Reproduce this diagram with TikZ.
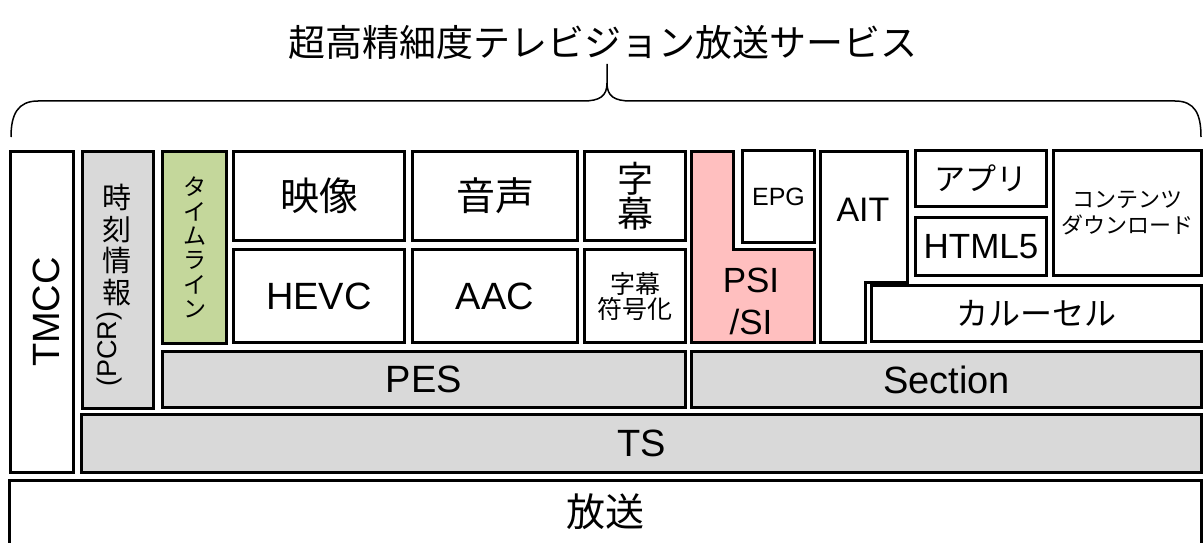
\documentclass[tikz,border=0pt]{standalone}
\usepackage{fontspec}
\setmainfont{Liberation Sans}
\newfontfamily\jp{Noto Sans CJK JP}
\definecolor{layergray}{HTML}{D9D9D9}
\definecolor{timegreen}{HTML}{C4D79B}
\definecolor{sipink}{HTML}{FFBFBF}

\begin{document}
\begin{tikzpicture}[
  x = 1pt, y = -1pt,
  frame/.style = {draw, line width = 3pt},
  box/.style = {frame, fill = white, inner sep = 0pt, align = center},
  layer/.style = {box, fill = layergray},
  dims/.style 2 args = {minimum width = #1pt, minimum height = #2pt},
  big/.style = {font = \fontsize{38}{40}\selectfont},
  bigjp/.style = {font = \jp\fontsize{39}{36}\selectfont},
  mid/.style = {font = \fontsize{35}{42}\selectfont, align = center},
  midjp/.style = {font = \jp\fontsize{31}{31}\selectfont},
  smalljp/.style = {font = \jp\fontsize{22}{26}\selectfont}
]
\useasboundingbox (0,0) rectangle (1203,543);

\node [font = \jp\fontsize{37}{37}\selectfont] (title) at (603,42) {超高精細度テレビジョン放送サービス};
\draw [line width = 1.5pt]
  (11,137) .. controls (11,114) and (18,101) .. (38,101) -- (583,101)
  .. controls (600,101) and (607,96) .. (607,83) -- (607,64)
  -- (607,83) .. controls (607,96) and (614,101) .. (631,101) -- (1175,101)
  .. controls (1195,101) and (1201,114) .. (1201,137);

\node [box, dims = {63}{321}] (tmcc) at (42,312) {};
\node [big, rotate = 90] (tmcc label) at (46,312) {TMCC};

\node [layer, dims = {71}{257}] (pcr) at (118,280) {};
\node [font = \jp\fontsize{29}{31.5}\selectfont, align = center] (pcr time) at (117,245) {時\\刻\\情\\報};
\node [font = \fontsize{27}{27}\selectfont, rotate = 90] (pcr label) at (110,349) {(PCR)};

\node [box, fill = timegreen, dims = {64}{192}, font = \jp\fontsize{23}{24.4}\selectfont] (timeline) at (194.5,247.5) {タ\\イ\\ム\\ラ\\イ\\ン};

\node [box, dims = {171}{89}, bigjp] (video) at (319,196) {映像};
\node [box, dims = {165}{89}, bigjp] (audio) at (495,196) {音声};
\node [box, dims = {101}{89}, font = \jp\fontsize{36}{35}\selectfont] (caption) at (635,196) {字\\幕};
\node [box, dims = {171}{93}, big] (hevc) at (319,296) {HEVC};
\node [box, dims = {165}{93}, big] (aac) at (495,296) {AAC};
\node [box, dims = {101}{93}, font = \jp\fontsize{25}{25}\selectfont] (caption code) at (635,296) {字幕\\符号化};
\node [layer, dims = {523}{56}, big] (pes) at (424,379.5) {PES};

\draw [frame, fill = sipink] (691.5,151.5) -- (733.5,151.5) -- (733.5,249.5) -- (814.5,249.5)
  -- (814.5,342.5) -- (691.5,342.5) -- cycle;
\node [mid] (psi) at (751,301) {PSI\\/SI};
\node [box, dims = {72}{92}, font = \fontsize{25}{25}\selectfont] (epg) at (778.5,196.5) {EPG};

\draw [frame, fill = white] (820.5,151.5) -- (907.5,151.5) -- (907.5,282) -- (865.5,282)
  -- (865.5,342.5) -- (820.5,342.5) -- cycle;
\node [font = \fontsize{34}{34}\selectfont] (ait) at (863,210) {AIT};

\node [box, dims = {131}{56}, midjp] (app) at (981,178.5) {アプリ};
\node [box, dims = {131}{58}, font = \fontsize{35}{35}\selectfont] (html) at (981,246.5) {HTML5};
\node [box, dims = {148}{125}, smalljp] (download) at (1127.5,213) {コンテンツ\\ダウンロード};
\node [box, dims = {330}{56}, font = \jp\fontsize{32}{32}\selectfont] (carousel) at (1036.5,313.5) {カルーセル};
\node [layer, dims = {510}{56}, big] (section) at (946.5,379.5) {Section};

\node [layer, dims = {1120}{58}, big] (ts) at (641.5,443.5) {TS};
\node [box, dims = {1192}{80}] (broadcast) at (605.5,520.5) {};
\node [bigjp] (broadcast label) at (605.5,512) {放送};

\end{tikzpicture}
\end{document}
